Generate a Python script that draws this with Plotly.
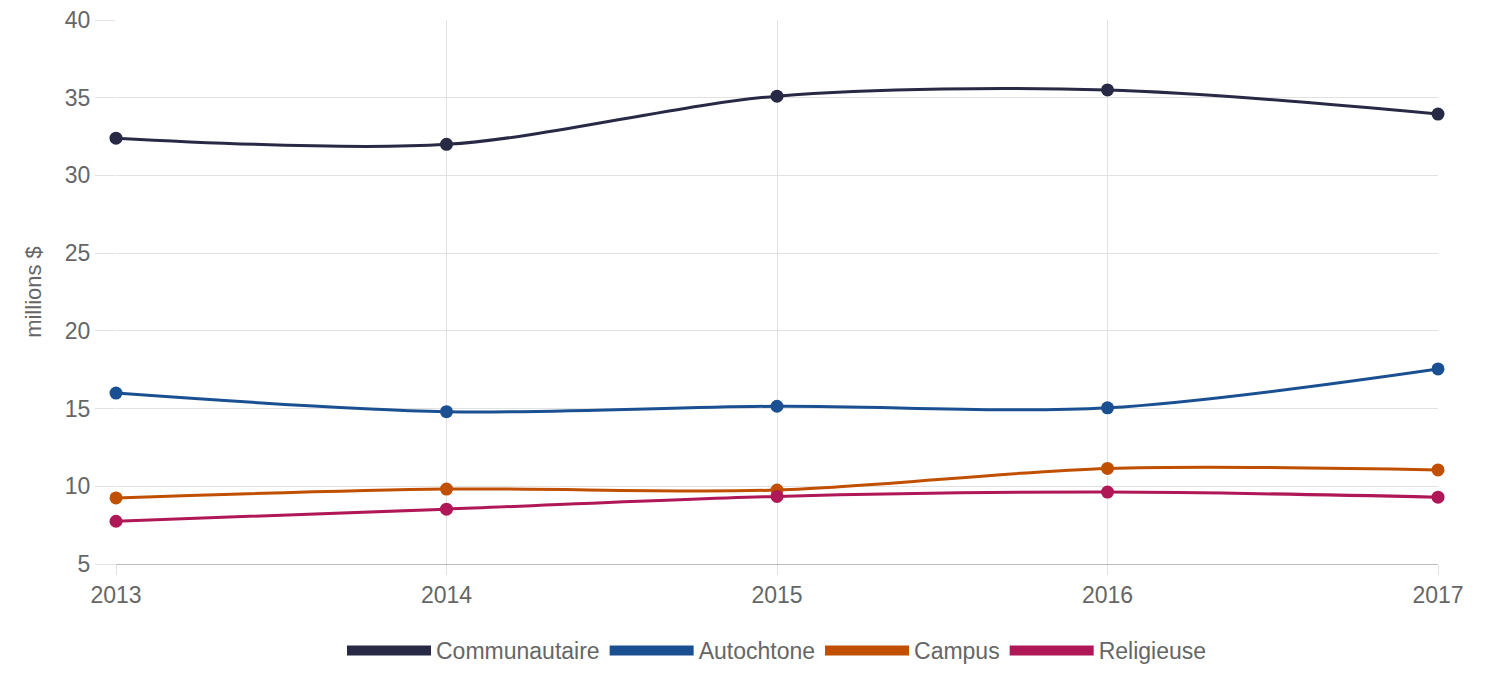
import plotly.graph_objects as go

years = [2013, 2014, 2015, 2016, 2017]
series_names = ["Communautaire", "Autochtone", "Campus", "Religieuse"]
communautaire = [32.4, 32.0, 35.1, 35.5, 33.95]
autochtone = [16.0, 14.8, 15.15, 15.05, 17.55]
campus = [9.25, 9.82, 9.76, 11.15, 11.05]
religieuse = [7.75, 8.53, 9.35, 9.63, 9.3]
colors = ["#282a45", "#1a5092", "#c05000", "#b01756"]
y_ticks = [5, 10, 15, 20, 25, 30, 35, 40]
y_title = "millions $"

FONT = "Liberation Sans, Arial, sans-serif"
TXT = "#666666"
GRID = "#e2e2e2"

fig = go.Figure()
for name, vals, col in zip(series_names, [communautaire, autochtone, campus, religieuse], colors):
    fig.add_trace(go.Scatter(
        x=years, y=vals, name=name, mode="lines+markers",
        line=dict(color=col, width=3, shape="spline", smoothing=0.9),
        marker=dict(color=col, size=13),
        showlegend=False, legendgroup=name, cliponaxis=False,
    ))
for name, col in zip(series_names, colors):
    fig.add_trace(go.Scatter(
        x=[None], y=[None], name=name, mode="lines",
        line=dict(color=col, width=10),
        showlegend=True, legendgroup=name,
    ))

fig.update_layout(
    width=1492, height=692,
    margin=dict(l=108, r=62, t=12, b=136),
    plot_bgcolor="white", paper_bgcolor="white",
    font=dict(family=FONT, size=23, color=TXT),
    legend=dict(orientation="h", x=0.5, xanchor="center", y=-0.159, yanchor="middle",
                itemwidth=84, font=dict(size=23, color=TXT), itemclick=False,
                tracegroupgap=0),
    xaxis=dict(
        range=[2013, 2017], tickvals=years, ticktext=[str(y) for y in years],
        showgrid=True, gridcolor=GRID, gridwidth=1.2,
        zeroline=False, showline=True, linecolor="#bdbdbd", linewidth=1.2,
        ticks="outside", ticklen=10, tickcolor=GRID, tickwidth=1.2,
        tickfont=dict(size=23, color=TXT), automargin=False,
        ticklabeloverflow="allow",
    ),
    yaxis=dict(
        range=[5, 40], tickvals=y_ticks,
        showgrid=True, gridcolor=GRID, gridwidth=1.2,
        zeroline=False, showline=False,
        ticks="outside", ticklen=20, tickcolor=GRID, tickwidth=1.2,
        tickfont=dict(size=23, color=TXT), automargin=False,
        ticklabeloverflow="allow",
        title=dict(text=y_title, font=dict(size=22, color=TXT), standoff=17),
    ),
)

fig.write_html("out.html")
